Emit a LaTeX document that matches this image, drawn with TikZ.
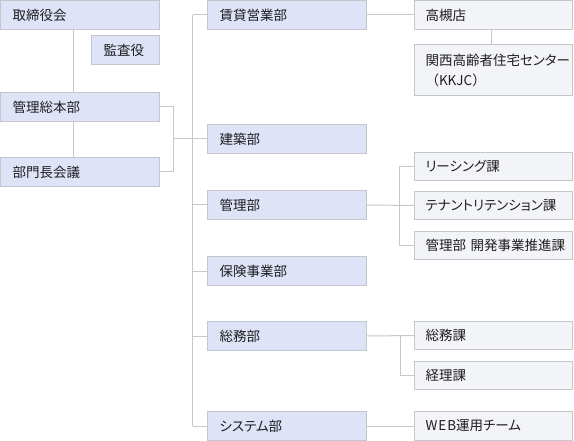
\documentclass[tikz,border=0pt]{standalone}
\usepackage{fontspec}
\setmainfont[RawFeature=+palt]{Noto Sans CJK JP}
\newfontfamily\fullw{Noto Sans CJK JP}
\definecolor{bluefill}{HTML}{DEE3F8}
\definecolor{grayfill}{HTML}{F3F4F8}
\definecolor{boxline}{HTML}{C4C7CE}
\definecolor{conn}{HTML}{C8C8C8}
\definecolor{txt}{HTML}{1E1E1E}
\tikzset{
  bx/.style={draw=boxline, line width=1bp, outer sep=0pt, anchor=north west,
    inner xsep=12bp, inner ysep=0pt, align=left, text=txt,
    font=\fontsize{13.5bp}{20bp}\selectfont},
  bl/.style={bx, fill=bluefill},
  gr/.style={bx, fill=grayfill, inner xsep=11bp},
  wl/.style={text width=135bp, minimum width=159bp},
  wm/.style={text width=135bp, minimum width=159bp},
  wr/.style={text width=136bp, minimum width=158bp},
  ws/.style={text width=44bp, minimum width=68bp},
  h29/.style={minimum height=29bp},
  h28/.style={minimum height=28bp},
  cn/.style={draw=conn, line width=1bp}
}
\begin{document}
\begin{tikzpicture}[x=1bp,y=-1bp]
\useasboundingbox[fill=white] (0,0) rectangle (574,441);
% left column
\node[bl,wl,h29] (tori) at (0.5,0.5) {取締役会};
\node[bl,ws,h29] (kansa) at (91.5,35.5) {監査役};
\node[bl,wl,h29] (kanri) at (0.5,92.5) {管理総本部};
\node[bl,wl,h29] (bumon) at (0.5,157.5) {部門長会議};
% middle column
\node[bl,wm,h29] (chintai) at (207.5,0.5) {賃貸営業部};
\node[bl,wm,h29] (kenchiku) at (207.5,124.5) {建築部};
\node[bl,wm,h29] (kanribu) at (207.5,190.5) {管理部};
\node[bl,wm,h29] (hoken) at (207.5,256.5) {保険事業部};
\node[bl,wm,h29] (soumu) at (207.5,321.5) {総務部};
\node[bl,wm,h29] (system) at (207.5,411.5) {システム部};
% right column
\node[gr,wr,h29] (taka) at (414.5,0.5) {高槻店};
\node[gr,wr,minimum height=51bp] (kansai) at (414.5,44.5) {関西高齢者住宅センター\\{\fullw（KKJC）}};
\node[gr,wr,h28] (leasing) at (414.5,152.5) {リーシング課};
\node[gr,wr,h28] (tenant) at (414.5,191.5) {テナントリテンション課};
\node[gr,wr,h28] (kaihatsu) at (414.5,231.5) {管理部~開発事業推進課};
\node[gr,wr,h28] (soumuka) at (414.5,321.5) {総務課};
\node[gr,wr,h28] (keiri) at (414.5,361.5) {経理課};
\node[gr,wr,h29] (web) at (414.5,411.5) {W\kern1bp E\kern1bp B運用チーム};
% junction coordinates
\coordinate (xa) at (73.5,0);
\coordinate (xb) at (173.5,0);
\coordinate (jb) at (173.5,138.5);
\coordinate (xm) at (192.5,0);
\coordinate (xk) at (399.5,0);
\coordinate (xs) at (400.5,0);
\coordinate (xt) at (491.5,0);
% left connectors
\draw[cn] (tori.south -| xa) -- (kanri.north -| xa);
\draw[cn] (kanri.south -| xa) -- (bumon.north -| xa);
\draw[cn] (kanri.east) -- (kanri.east -| xb) -- (bumon.east -| xb) -- (bumon.east);
\draw[cn] (jb) -- (jb -| xm);
% main vertical
\draw[cn] (chintai.west -| xm) -- (system.west -| xm);
\foreach \n in {chintai,kenchiku,kanribu,hoken,soumu,system}
  \draw[cn] (\n.west -| xm) -- (\n.west);
% right connectors
\draw[cn] (chintai.east) -- (taka.west);
\draw[cn] (taka.south -| xt) -- (kansai.north -| xt);
\draw[cn] (kanribu.east) -- (tenant.west);
\draw[cn] (leasing.west) -- (leasing.west -| xk) -- (kaihatsu.west -| xk) -- (kaihatsu.west);
\draw[cn] (soumu.east) -- (soumuka.west);
\draw[cn] (soumu.east -| xs) -- (keiri.west -| xs) -- (keiri.west);
\draw[cn] (system.east) -- (web.west);
\end{tikzpicture}
\end{document}
